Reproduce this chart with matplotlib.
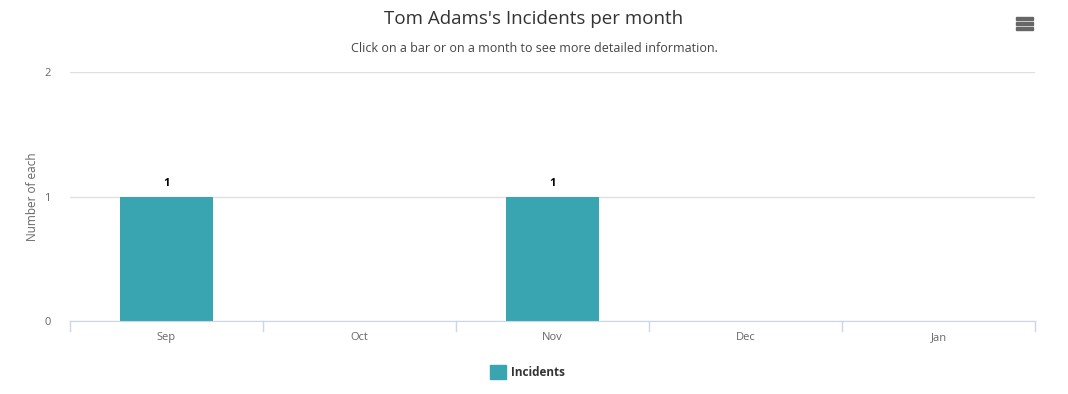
import numpy as np
import matplotlib
matplotlib.use("Agg")
import matplotlib.pyplot as plt
from matplotlib.patches import Rectangle

plt.rcParams['font.family'] = ['Open Sans', 'DejaVu Sans']

# -------------------- Datos --------------------
meses = ["Sep", "Oct", "Nov", "Dec", "Jan"]
incidentes = [1, 0, 1, 0, 0]
y_ticks = [0, 1, 2]

color_barra = "#38a5b1"
color_texto = "#333333"

fig = plt.figure(figsize=(10.68, 3.94), dpi=100)
ax = fig.add_axes([70 / 1068, 1 - 321 / 394, 965 / 1068, 249 / 394])

x = np.arange(len(meses))
ax.bar(x, incidentes, width=0.48, color=color_barra, zorder=3)

# etiquetas de valor encima de las barras
for xi, v in zip(x, incidentes):
    if v > 0:
        ax.text(xi, v + 0.06, str(v), ha="center", va="bottom",
                fontsize=8, fontweight="bold", color="#000000")

ax.set_xlim(-0.5, len(meses) - 0.5)
ax.set_ylim(0, 2)
ax.set_yticks(y_ticks)
ax.set_yticklabels([str(t) for t in y_ticks], fontsize=8, color="#666666")
ax.set_xticks(x)
ax.set_xticklabels(meses, fontsize=8, color="#666666")
ax.tick_params(axis="x", length=0, pad=8)
ax.tick_params(axis="y", length=0, pad=14)

# marcas entre categorías
for b in np.arange(-0.5, len(meses), 1.0):
    ax.plot([b, b], [0, -0.08], color="#ccd6eb", lw=1, clip_on=False, zorder=4)

ax.grid(axis="y", color="#e0e0e0", lw=1, zorder=0)
for s in ["top", "right", "left"]:
    ax.spines[s].set_visible(False)
ax.spines["bottom"].set_color("#ccd6eb")
ax.spines["bottom"].set_zorder(4)

ax.set_ylabel("Number of each", fontsize=8.5, color="#666666", labelpad=4)

# títulos
fig.text(0.5, 1 - 19 / 394, "Tom Adams's Incidents per month", ha="center",
         va="center", fontsize=13.5, color=color_texto)
fig.text(0.5, 1 - 49 / 394, "Click on a bar or on a month to see more detailed information.",
         ha="center", va="center", fontsize=9, color="#444444")

# leyenda
fig.patches.append(Rectangle((490 / 1068, 1 - 379 / 394), 16 / 1068, 14 / 394,
                             transform=fig.transFigure, color=color_barra))
fig.text(511 / 1068, 1 - 372 / 394, "Incidents", ha="left", va="center",
         fontsize=8.5, fontweight="bold", color=color_texto)

# icono de menú
for yy in [18.5, 23.5, 28.5]:
    fig.patches.append(Rectangle((1016 / 1068, 1 - (yy + 1.3) / 394), 17 / 1068, 2.6 / 394,
                                 transform=fig.transFigure, color="#666666"))

fig.savefig("out.png", dpi=100, facecolor="white")
